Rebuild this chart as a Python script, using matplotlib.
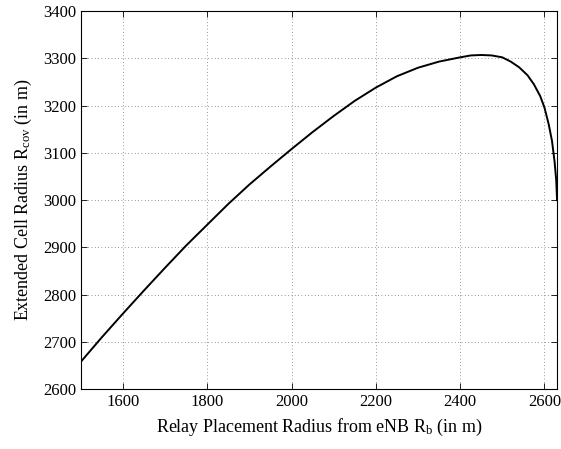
import matplotlib
matplotlib.use("Agg")
import matplotlib.pyplot as plt

# Relay placement radius (m) and extended cell radius (m)
relay_radius = [1500, 1550, 1600, 1650, 1700, 1750, 1800, 1850, 1900, 1950,
                2000, 2050, 2100, 2150, 2200, 2250, 2300, 2350, 2400, 2425,
                2450, 2475, 2500, 2520, 2540, 2560, 2575, 2590, 2600, 2610,
                2618, 2624, 2628, 2630]
cell_radius = [2658, 2710, 2760, 2809, 2857, 2904, 2948, 2992, 3033, 3071,
               3108, 3144, 3178, 3210, 3238, 3262, 3280, 3293, 3302, 3306,
               3307, 3306, 3302, 3293, 3281, 3264, 3245, 3220, 3196, 3161,
               3125, 3082, 3042, 3000]

x_ticks = [1600, 1800, 2000, 2200, 2400, 2600]
y_ticks = [2600, 2700, 2800, 2900, 3000, 3100, 3200, 3300, 3400]

plt.rcParams['font.family'] = ['Liberation Serif', 'DejaVu Serif']
plt.rcParams['mathtext.fontset'] = 'custom'
plt.rcParams['mathtext.rm'] = 'Liberation Serif'
plt.rcParams['mathtext.it'] = 'Liberation Serif:italic'

fig = plt.figure(figsize=(5.61, 4.49), dpi=100)
ax = fig.add_axes([0.144, 0.133, 0.849, 0.8425])

ax.plot(relay_radius, cell_radius, color='black', linewidth=1.4,
        solid_joinstyle='round')

ax.set_xlim(1500, 2630)
ax.set_ylim(2600, 3400)
ax.set_xticks(x_ticks)
ax.set_yticks(y_ticks)
ax.tick_params(direction='in', top=True, right=True, labelsize=12, length=4, width=0.6)
ax.grid(True, linestyle=(0, (1, 3)), color='#777777', linewidth=0.6)
for s in ax.spines.values():
    s.set_linewidth(0.8)

ax.set_xlabel(r'Relay Placement Radius from eNB R$_{\mathrm{b}}$ (in m)', fontsize=13, labelpad=5)
ax.set_ylabel(r'Extended Cell Radius R$_{\mathrm{cov}}$ (in m)', fontsize=13, labelpad=6)

fig.savefig('out.png', dpi=100)
